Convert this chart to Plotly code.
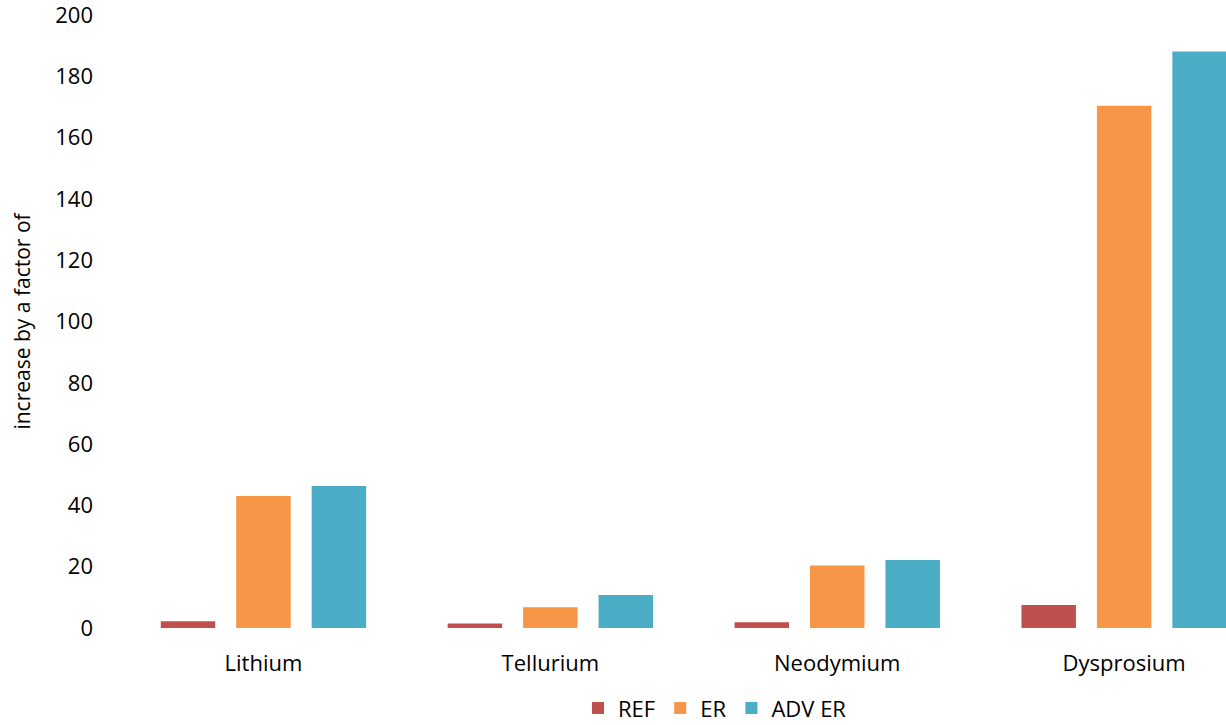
import plotly.graph_objects as go

# Metals and scenario multipliers (increase by a factor of ...)
metals = ["Lithium", "Tellurium", "Neodymium", "Dysprosium"]
ref_values = [2.2, 1.5, 1.9, 7.5]
er_values = [43.1, 6.8, 20.4, 170.4]
adv_er_values = [46.3, 10.8, 22.2, 188.1]
y_ticks = [0, 20, 40, 60, 80, 100, 120, 140, 160, 180, 200]

FONT = "'Open Sans', Lato, sans-serif"

fig = go.Figure()
fig.add_trace(go.Bar(name="REF", x=metals, y=ref_values,
                     marker=dict(color="#C0504D", line=dict(width=0))))
fig.add_trace(go.Bar(name="ER", x=metals, y=er_values,
                     marker=dict(color="#F79646", line=dict(width=0))))
fig.add_trace(go.Bar(name="ADV ER", x=metals, y=adv_er_values,
                     marker=dict(color="#4BACC6", line=dict(width=0))))

fig.update_layout(
    width=1226, height=725,
    margin=dict(l=120, r=0, t=15, b=97, autoexpand=False),
    paper_bgcolor="white", plot_bgcolor="white",
    barmode="group", bargap=0.211, bargroupgap=0.278,
    font=dict(family=FONT, size=22, color="#000000"),
    showlegend=True,
    legend=dict(orientation="h", x=0.538, xanchor="center",
                y=-0.131, yanchor="middle",
                font=dict(size=22), itemwidth=30,
                bgcolor="rgba(0,0,0,0)"),
    xaxis=dict(range=[-0.5, 3.355], showgrid=False, showline=False,
               zeroline=False, ticks="", ticklabelstandoff=20,
               tickfont=dict(size=22)),
    yaxis=dict(range=[0, 200], tickvals=y_ticks, showgrid=False,
               showline=False, zeroline=False, ticks="",
               ticklabelstandoff=26, tickfont=dict(size=22),
               ticklabeloverflow="allow",
               automargin=False,
               title=dict(text="increase by a factor of",
                          font=dict(size=21), standoff=18)),
)

fig.write_html("out.html")
